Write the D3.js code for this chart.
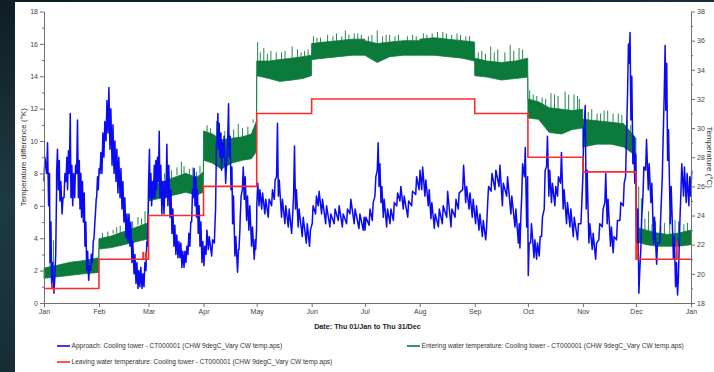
<!DOCTYPE html>
<html><head><meta charset="utf-8">
<script src="https://cdn.jsdelivr.net/npm/d3@7"></script>
<style>
html,body{margin:0;padding:0;width:714px;height:372px;overflow:hidden;background:#15252d;}
svg{display:block;font-family:"Liberation Sans",Arial,sans-serif;}
</style></head>
<body>
<svg id="c" width="714" height="372"></svg>
<script>
// ---- data (days from 1 Jan 2015) ----
const months = ["Jan","Feb","Mar","Apr","May","Jun","Jul","Aug","Sep","Oct","Nov","Dec","Jan"];
const leftTicks = [0,2,4,6,8,10,12,14,16,18];
const rightTicks = [18,20,22,24,26,28,30,32,34,36,38];
const seriesNames = [
 "Approach: Cooling tower - CT000001 (CHW 9degC_Vary CW temp.aps)",
 "Entering water temperature: Cooling tower - CT000001 (CHW 9degC_Vary CW temp.aps)",
 "Leaving water temperature: Cooling tower - CT000001 (CHW 9degC_Vary CW temp.aps)"
];
// Approach (K): [day, low, high]
const approach = [
[0,7.5,9.0],[1.5,8.0,9.9],[2.6,6.0,8.0],[3.4,2.5,5.0],[4.3,1.2,2.5],[5.6,0.6,1.6],[6.6,3,7],[7.1,8,9.5],[8.1,7,8.8],[9,6.3,7.5],[10.2,5.5,6.5],[11.3,6.5,8],[12.4,7.5,9],[13.3,7,9.4],[14.3,8,11.7],[15.2,6.5,8.5],[16.2,6,8],[17.3,6.5,8.5],[18.4,8,11.3],[19.4,6.5,8.8],[20.3,5.8,8],[21.2,5.3,7.5],[22.2,5,6.8],[23.1,3.5,5],[24.1,2,3.2],[25.2,1.4,2.3],[26.3,2,3],[27.3,2.5,3.8],[28.2,4,5],[29,5.5,6.5],[29.7,6.5,7.8],[30.6,7,8.3],[31.6,8,9.3],[32.7,8,10.5],[33.8,9,11.2],[35,10,12.5],[36.1,10.5,13.3],[37.2,9.5,12],[38.4,8.5,11],[39.5,8,10],[40.6,7.5,9.5],[41.7,6.8,9],[42.9,6.5,8.3],[44,5.8,7.5],[45.1,5,6.5],[46.3,4,5.5],[47.4,3.8,5.5],[48.5,3.5,5],[49.6,2.5,3.8],[50.8,1.8,3],[51.9,1.2,2.5],[53,0.9,2],[54.1,1,2.2],[55.3,0.9,1.8],[56.4,1,2.5],[57.5,2,3.8],[58.3,3.5,6],[59,7.5,9.5],[59.8,6.5,8],[60.7,6,7.5],[61.7,6.5,8.5],[62.6,6.5,8.8],[63.5,7,9],[64.5,7.5,10.6],[65.4,6.5,8.5],[66.5,5.5,7.5],[67.7,5.5,7.5],[68.8,6.5,9.8],[69.9,6,8.5],[71.1,5.3,7],[72.2,4.3,5.8],[73.3,3.5,4.8],[74.4,3,4.2],[75.6,2.8,3.8],[76.7,2.8,3.7],[77.8,2.2,3.2],[79,2.2,3.2],[80.1,2.5,3.5],[81.2,3,4.3],[82.3,3.5,5],[83.3,5,7],[84.2,6.5,8.3],[85.2,6,7.8],[86.1,5.3,7],[87,4.3,6],[88,3.5,5],[89.1,2.5,3.8],[90.2,2.3,3.5],[91.4,3,4.5],
[92.7,3.3,4.1],[94.6,2.9,3.9],[96.1,3.7,5.3],[96.8,5.8,9.9],[97.6,9.9,11.7],[98.3,9.5,11.1],[99.3,9,10.5],[100.2,8.2,9.9],[101.1,9,10.3],[102.5,7.4,8.6],[103.6,9.9,12.3],[104.5,9,10.3],[105.5,7,8.4],[106.4,4.9,6.6],[107.7,2.9,4.1],[109.2,1.9,3.3],[110,3.3,4.5],[110.7,5.3,6.6],[111.9,7,8.4],[113,6.4,7.8],[114.3,5.1,6.6],[115.6,4.5,6],[117.1,3.5,4.7],[118.6,2.7,3.9],[119.4,3.3,4.5],[120.1,6.2,7.4],[121.3,6,7],[122.8,5.8,6.8],[124.6,5.5,6.4],[126.5,5.3,6.4],[128.4,6,7],[129.9,6.4,7.6],[131.2,7.8,11.1],[132.2,6.6,7.6],[134,5.3,6.4],[135.9,4.9,6],[137.8,4.7,5.8],[139.7,4.3,5.3],[140.8,6.6,9.7],[141.9,5.8,7],[143.4,4.7,5.8],[145.7,4.1,5.3],[148,3.7,4.9],[149.8,3.5,4.5],[151.3,4.9,6],[153.2,5.5,6.6],[154.7,6,6.9],[156.6,5.5,6.4],[158.9,4.9,6],[161.3,4.7,5.5],[163.7,4.9,5.8],[166,5.1,6],[168.3,4.7,5.5],[170.7,4.9,5.8],[172.6,5.5,6.4],[175,4.9,5.8],[177.7,4.6,5.5],[180.1,4.5,5.3],
[181.1,4.5,5.3],[183.4,4.8,5.8],[185.2,5.1,6.2],[186.7,6.6,7.8],[188,8.2,9.9],[189,7.2,8.6],[190.1,6.2,7.2],[191.4,5.3,6.4],[193.3,4.7,5.8],[195.2,4.9,5.8],[197.1,5.1,6.2],[199,6,6.8],[200.8,6.3,7.2],[202.7,5.8,6.6],[205.2,5.3,6.3],[207.4,6,6.9],[209.7,6.7,7.8],[211.6,7,8.2],[213.1,7,8.4],[214.9,6.6,7.6],[216.8,6,7],[218.3,5.2,6.2],[220.2,4.6,5.5],[222.5,4.7,5.8],[224.7,4.9,6],[227.2,5.3,6.9],[229.6,4.7,5.8],[231.9,5.3,6.4],[233.7,5.8,6.8],[236.2,7,8.5],[237.9,6.2,7.2],[239.8,5.8,6.8],[241.6,5.3,6.4],[243.5,4.9,6],[245.4,4.5,5.5],[247.3,4.1,5.1],[249.2,3.9,4.7],[250.3,6.2,7.2],[252.2,6.9,8],[254.4,7,8.2],[256.7,7.2,8.5],[258.6,6,7.4],[261,6.6,7.8],[263.4,5.5,6.6],[265.7,4.7,5.8],[267.6,3.7,4.9],[268.5,3.4,5.3],[269.5,6.6,8.6],[271,7.8,9.6],[272.3,4.7,7.8],
[273.2,1.7,3.7],[274.5,3.7,4.9],[276.4,2.8,3.9],[277.9,2.7,3.7],[279.4,2.9,4.1],[280.7,4.1,5.3],[282.2,5.8,8.2],[283.5,8.4,10.3],[284.8,6.6,8.2],[286.3,6.2,7.4],[288.2,6,7.2],[289.7,6.6,7.8],[291.4,7.4,9.3],[292.9,5.8,7],[294.8,4.9,6.2],[296.7,4.7,5.8],[298.6,4.1,5.3],[301,3.9,4.9],[302.9,4.9,6.2],[304,7.8,10.9],[304.8,10.3,12.2],[305.9,5.8,8.2],[307.4,3.7,4.9],[309.3,3.3,4.3],[311.2,2.7,3.7],[313,3.9,4.9],[314.9,4.7,5.8],[316.4,6.2,8],[317.7,4.9,6.4],[319.6,3.5,4.7],[321.1,3.1,4.1],[323,3.9,5.1],[324.9,5.1,6.2],[326.8,6,7.4],[328.1,7.8,10.3],[329.2,12.9,16],[330.1,14.8,16.7],[331.1,11.3,14],[332.2,8.6,10.3],[333.3,7.4,9.2],[334.5,3.3,5.8],[335.6,0.6,2],[336.7,3.3,5.3],[337.9,6.6,8.4],[339.4,8.2,10.1],[340.9,7,8.6],[342.4,6.2,7.4],[343.9,3.7,5.3],[345.6,2.4,3.7],[347.4,3.7,5.3],[348.8,7.8,10.3],[349.9,12.9,15.9],[350.8,11.9,14.8],[351.8,8.8,10.7],[353.3,4.9,7.2],[355.1,2.7,4.1],[356.3,1,2.5],[357.4,0.5,1.6],[358.3,3.3,5.3],[359.3,6.8,8.6],[360.8,6.6,8.4],[362.3,6.2,8],[363.8,6,7.8],[364.9,6.6,8.2]
];
// Entering water temperature (°C): [day, low, high]
const entering = [
[0,19.7,20.4],[8,19.8,20.6],[15,19.9,20.8],[22,20.0,20.9],[30.9,20.1,21.1],
[31,21.7,22.4],[38,21.8,22.6],[45,22.0,22.9],[52,22.2,23.2],[58.9,22.4,23.5],
[59,25.0,26.0],[66,25.2,26.3],[73,25.4,26.6],[80,25.6,26.9],[86,25.4,26.6],[89.9,25.6,27.0],
[90,27.8,29.8],[95,27.6,29.6],[100,27.2,29.2],[106,27.6,29.3],[112,27.8,29.4],[117,27.9,29.6],[119.9,28.4,30.5],
[120,33.6,34.6],[127,33.4,34.6],[133,33.2,34.7],[140,33.3,34.8],[146,33.4,34.9],[150.9,33.6,35.0],
[151,34.7,35.8],[158,34.8,35.9],[166,34.9,36.0],[174,35.0,36.1],[180.9,35.0,36.1],
[181,35.0,36.0],[188,34.5,35.8],[195,34.9,35.9],[203,35.0,36.0],[211.9,35.0,36.0],
[212,35.0,36.1],[220,35.0,36.2],[228,34.9,36.1],[236,34.8,36.0],[242.9,34.6,35.9],
[243,33.6,34.8],[250,33.5,34.6],[258,33.3,34.5],[266,33.4,34.6],[272.9,33.5,34.8],
[273,30.7,32.0],[279,30.6,31.8],[285,29.7,31.4],[292,29.6,31.3],[298,29.9,31.2],[303.9,30.0,31.3],
[304,28.7,30.6],[312,28.9,30.5],[320,28.9,30.4],[327,28.7,30.3],[333.9,28.1,29.3],
[334,22.2,23.2],[340,22.0,23.0],[346,21.9,22.8],[352,21.9,22.7],[358,21.9,22.8],[365,22.0,23.0]
];
// Entering water temperature peaks: [day, top °C]
const enteringPeaks = [[3.4,21.6],[5.3,22.3],[24,21.3],[26.5,21.4],
[33,22.8],[36,22.9],[39,23.0],[41,23.2],[43,23.3],[46,23.6],[48,24.0],[50,23.6],[53,23.9],[55,23.8],[57,24.3],
[60,26.8],[62,26.5],[64,26.8],[68,26.9],[70,27.0],[72,27.1],[75,27.3],[77.5,27.7],[79,27.4],[82,27.2],[84,27.3],[86,27.0],[88,27.4],
[92,30.2],[94,30.0],[97.4,30.5],[99,29.9],[102,29.8],[104,30.0],[107,29.9],[109.6,30.3],[112,30.0],[115,30.1],[118,30.6],
[120.5,35.9],[122,35.2],[124,35.5],[126,35.1],[128,35.3],[131,35.2],[134,35.2],[136,35.3],[140,35.6],[143,35.4],[145,35.2],[147,35.3],[149,35.4],
[152,36.3],[154,36.2],[156,36.2],[160,36.4],[163,36.3],[165,36.5],[168,36.3],[170,36.7],[172,36.4],[175,36.5],[177,36.5],[179,36.4],
[183,36.3],[185,36.4],[188,36.7],[191,36.3],[193,36.4],[195,36.4],[198,36.3],[200,36.4],[205,36.3],[208,36.4],[210,36.3],
[214,36.5],[216,36.4],[219,36.5],[222,36.6],[225,36.6],[227,36.5],[230,36.4],[233,36.5],[235,36.4],[238,36.3],[240,36.3],
[245,35.2],[247,35.3],[249,35.1],[252,35.6],[254,35.2],[256,35.4],[260,35.2],[263,35.7],[265,35.3],[268,35.5],[270,35.4],
[274,32.6],[276,32.3],[278,32.2],[281,32.1],[283,32.0],[286,32.4],[288,32.3],[290,32.2],[294,32.5],[296,32.3],[299,32.3],[301,32.2],[302,32.0],
[305,31.2],[307,31.1],[309,31.3],[312,31.0],[314,31.0],[316,31.2],[318,31.2],[321,31.0],[324,31.0],[326,30.9],[329,30.6],[331,30.2],
[335.5,26.0],[337,25.2],[339,23.8],[341,24.3],[343,23.4],[345,23.6],[348,23.3],[350,23.5],[353,24.0],[356,23.7],[358,23.6],[361,23.4],[363,23.5]];
// Leaving water temperature (°C): step changes [day, value]
const leaving = [[0,19],[31,21],[59,24],[90,26],[120,31],[151,32],[243,31],[273,28],[304,27],[334,21],[365,21]];
const leavingBlips = [[4.5,19.3],[5.5,18.8],[56,21.5],[57.5,21.5],[334.8,22.1],[357,22.2]];

// ---- chart ----
const svg = d3.select("#c");
const L = 44, R = 691, T = 11.5, B = 303;
const t0 = Date.UTC(2015,0,1);
const dt = d => new Date(t0 + d*864e5);
const x = d3.scaleUtc().domain([dt(0), dt(365)]).range([L, R]);
const yL = d3.scaleLinear().domain([0,18]).range([B, T]);
const yR = d3.scaleLinear().domain([18,38]).range([B, T]);

// background
const defs = svg.append("defs");
const g = defs.append("linearGradient").attr("id","bg").attr("x1",0).attr("y1",0).attr("x2",0.3).attr("y2",1);
g.append("stop").attr("offset","0").attr("stop-color","#0f1d25");
g.append("stop").attr("offset","0.5").attr("stop-color","#1f3a44");
g.append("stop").attr("offset","1").attr("stop-color","#142a33");
svg.append("rect").attr("width",714).attr("height",372).attr("fill","url(#bg)");
svg.append("rect").attr("x",15).attr("y",2).attr("width",699).attr("height",370).attr("fill","#ffffff");

const cGreen = "#0b7a3b", cBlue = "#0a0af5", cRed = "#ff2a2a";

// Entering water (green band with peaks)
const gArea = d3.area().x(d=>x(dt(d[0]))).y0(d=>yR(d[1])).y1(d=>yR(d[2]));
svg.append("path").datum(entering).attr("d", gArea).attr("fill", cGreen).attr("stroke", cGreen).attr("stroke-width",0.8);
const bis = d3.bisector(d=>d[0]).left;
svg.append("g").selectAll("line").data(enteringPeaks).join("line")
  .attr("x1", d=>x(dt(d[0]))).attr("x2", d=>x(dt(d[0])))
  .attr("y1", d=>{const i=Math.min(bis(entering,d[0]),entering.length-1); return yR(entering[i][2])+2;})
  .attr("y2", d=>yR(d[1])).attr("stroke", cGreen).attr("stroke-width",0.9);

// Approach (blue): zig-zag trace between low and high readings
const zig = [];
approach.forEach(d => { zig.push([x(dt(d[0])), yL(d[1])]); zig.push([x(dt(d[0]))+0.9, yL(d[2])]); });
svg.append("path").attr("d", d3.line()(zig)).attr("fill","none").attr("stroke", cBlue)
  .attr("stroke-width",1.5).attr("stroke-linejoin","round");

// Leaving water (red step)
const rLine = d3.line().x(d=>x(dt(d[0]))).y(d=>yR(d[1])).curve(d3.curveStepAfter);
svg.append("path").datum(leaving).attr("d", rLine).attr("fill","none").attr("stroke", cRed).attr("stroke-width",1.6);
svg.append("g").selectAll("line").data(leavingBlips).join("line")
  .attr("x1", d=>x(dt(d[0]))).attr("x2", d=>x(dt(d[0])))
  .attr("y1", d=>{const i=Math.max(0,d3.bisector(e=>e[0]).right(leaving,d[0])-1); return yR(leaving[i][1]);})
  .attr("y2", d=>yR(d[1])).attr("stroke", cRed).attr("stroke-width",2);

// axes
function styleAxis(sel){
  sel.selectAll("path,line").attr("stroke","#707070").attr("stroke-width",1);
  sel.selectAll("text").attr("fill","#444").attr("font-size","7px");
}
const odd = d3.range(1,18,2), oddR = d3.range(19,38,2);
svg.append("g").attr("transform",`translate(${L},0)`)
  .call(d3.axisLeft(yL).tickValues(leftTicks).tickSize(4).tickSizeOuter(0).tickPadding(2)).call(styleAxis);
svg.append("g").attr("transform",`translate(${L},0)`)
  .call(d3.axisLeft(yL).tickValues(odd).tickSize(2).tickFormat("").tickSizeOuter(0)).call(styleAxis);
svg.append("g").attr("transform",`translate(${R},0)`)
  .call(d3.axisRight(yR).tickValues(rightTicks).tickSize(4).tickSizeOuter(0).tickPadding(2)).call(styleAxis);
svg.append("g").attr("transform",`translate(${R},0)`)
  .call(d3.axisRight(yR).tickValues(oddR).tickSize(2).tickFormat("").tickSizeOuter(0)).call(styleAxis);
const monthDates = d3.range(13).map(i=>new Date(Date.UTC(2015,i,1)));
svg.append("g").attr("transform",`translate(0,${B})`)
  .call(d3.axisBottom(x).tickValues(monthDates).tickFormat((d,i)=>months[i]).tickSize(4).tickSizeOuter(0).tickPadding(2)).call(styleAxis);

// axis titles
svg.append("text").attr("transform",`translate(26,${(T+B)/2}) rotate(-90)`).attr("text-anchor","middle")
  .attr("font-size","8px").attr("fill","#333").text("Temperature difference (°K)");
svg.append("text").attr("transform",`translate(707,${(T+B)/2}) rotate(90)`).attr("text-anchor","middle")
  .attr("font-size","8px").attr("fill","#333").text("Temperature (°C)");
svg.append("text").attr("x",(L+R)/2).attr("y",329).attr("text-anchor","middle")
  .attr("font-size","7.2px").attr("font-weight","bold").attr("fill","#222").text("Date: Thu 01/Jan to Thu 31/Dec");

// legend
const leg = [
  {x:57, y:346, c:cBlue, t:seriesNames[0]},
  {x:407, y:346, c:cGreen, t:seriesNames[1]},
  {x:57, y:362, c:cRed, t:seriesNames[2]}
];
const lg = svg.append("g").selectAll("g").data(leg).join("g").attr("transform",d=>`translate(${d.x},${d.y})`);
lg.append("line").attr("x1",0).attr("x2",13).attr("stroke",d=>d.c).attr("stroke-width",1.6);
lg.append("text").attr("x",14.5).attr("y",2.3).attr("font-size","6.6px").attr("fill","#333").text(d=>d.t);
</script>
</body></html>
